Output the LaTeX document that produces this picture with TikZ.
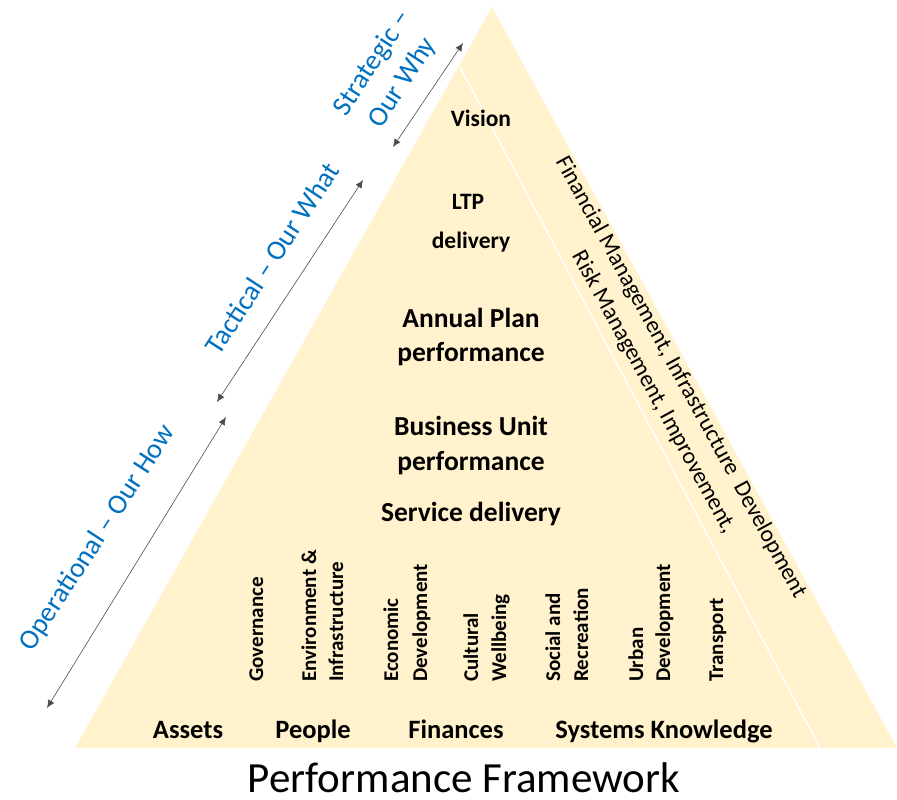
\documentclass[tikz,border=0pt]{standalone}
\usepackage{fontspec}
\setmainfont{Carlito}
\usetikzlibrary{arrows.meta}
\definecolor{pyr}{HTML}{FFF2CC}
\definecolor{blu}{HTML}{0070C0}
\begin{document}
\begin{tikzpicture}[x=1pt,y=-1pt,
  lvl/.style={font=\bfseries\fontsize{27.5}{35}\selectfont, inner sep=0pt, anchor=base},
  top/.style={font=\bfseries\fontsize{23.5}{28}\selectfont, inner sep=0pt, anchor=base},
  res/.style={font=\bfseries\fontsize{26.5}{30}\selectfont, inner sep=0pt, anchor=base},
  col/.style={font=\bfseries\fontsize{21}{25}\selectfont, inner sep=0pt, rotate=90, anchor=base west},
  tier/.style={font=\fontsize{28}{36}\selectfont, text=blu, inner sep=0pt, rotate=57, align=center},
  side/.style={font=\fontsize{23.5}{31}\selectfont, inner sep=0pt, rotate=-61.3, align=center},
  span/.style={draw=gray!60!black, line width=0.6pt, {Latex[length=8pt,width=7pt]}-{Latex[length=8pt,width=7pt]}}
]
\useasboundingbox (0,0) rectangle (897,800);
\coordinate (apex) at (492,7);
\coordinate (bl) at (75,748);
\coordinate (br) at (897,748);
\fill[pyr] (bl) -- (apex) -- (br) -- cycle;
\coordinate (w1) at (460,67);
\coordinate (w2) at (820,748);
\draw[white, line width=1.5pt] (w1) -- (w2);

\node[top] (vision) at (481,126) {Vision};
\node[top] (ltp) at (468,209) {LTP};
\node[top] (ltpd) at (471,248) {delivery};
\node[lvl] (ap1) at (471,327) {Annual Plan};
\node[lvl] (ap2) at (471,361) {performance};
\node[lvl] (bu1) at (471,435) {Business Unit};
\node[lvl] (bu2) at (471,470) {performance};
\node[lvl] (sd) at (471,521) {Service delivery};

\node[col] (c1) at (263,682) {Governance};
\node[col] (c2a) at (316,682) {Environment \&};
\node[col] (c2b) at (343,682) {Infrastructure};
\node[col] (c3a) at (398,682) {Economic};
\node[col] (c3b) at (427,682) {Development};
\node[col] (c4a) at (478,682) {Cultural};
\node[col] (c4b) at (506,682) {Wellbeing};
\node[col] (c5a) at (560,682) {Social and};
\node[col] (c5b) at (588,682) {Recreation};
\node[col] (c6a) at (643,682) {Urban};
\node[col] (c6b) at (670,682) {Development};
\node[col] (c7) at (723,682) {Transport};

\node[res] (assets) at (188,738) {Assets};
\node[res] (people) at (313,738) {People};
\node[res] (fin) at (456,738) {Finances};
\node[res] (sys) at (664,738) {Systems Knowledge};

\node[side] (fm) at (667,385) {Financial Management, Infrastructure\ \ Development\\Risk Management, Improvement,};

\node[tier] (strat) at (388,73) {Strategic –\\Our Why};
\node[tier] (tact) at (272,258) {Tactical – Our What};
\node[tier] (oper) at (98,538) {Operational – Our How};

\coordinate (s1) at (393,147);
\coordinate (s2) at (463,43);
\coordinate (t1) at (217,402);
\coordinate (t2) at (363,180);
\coordinate (o1) at (47,708);
\coordinate (o2) at (226,417);
\draw[span] (s1) -- (s2);
\draw[span] (t1) -- (t2);
\draw[span] (o1) -- (o2);

\node[font=\fontsize{43}{50}\selectfont, inner sep=0pt, anchor=base] (title) at (464,792) {Performance Framework};
\end{tikzpicture}
\end{document}
